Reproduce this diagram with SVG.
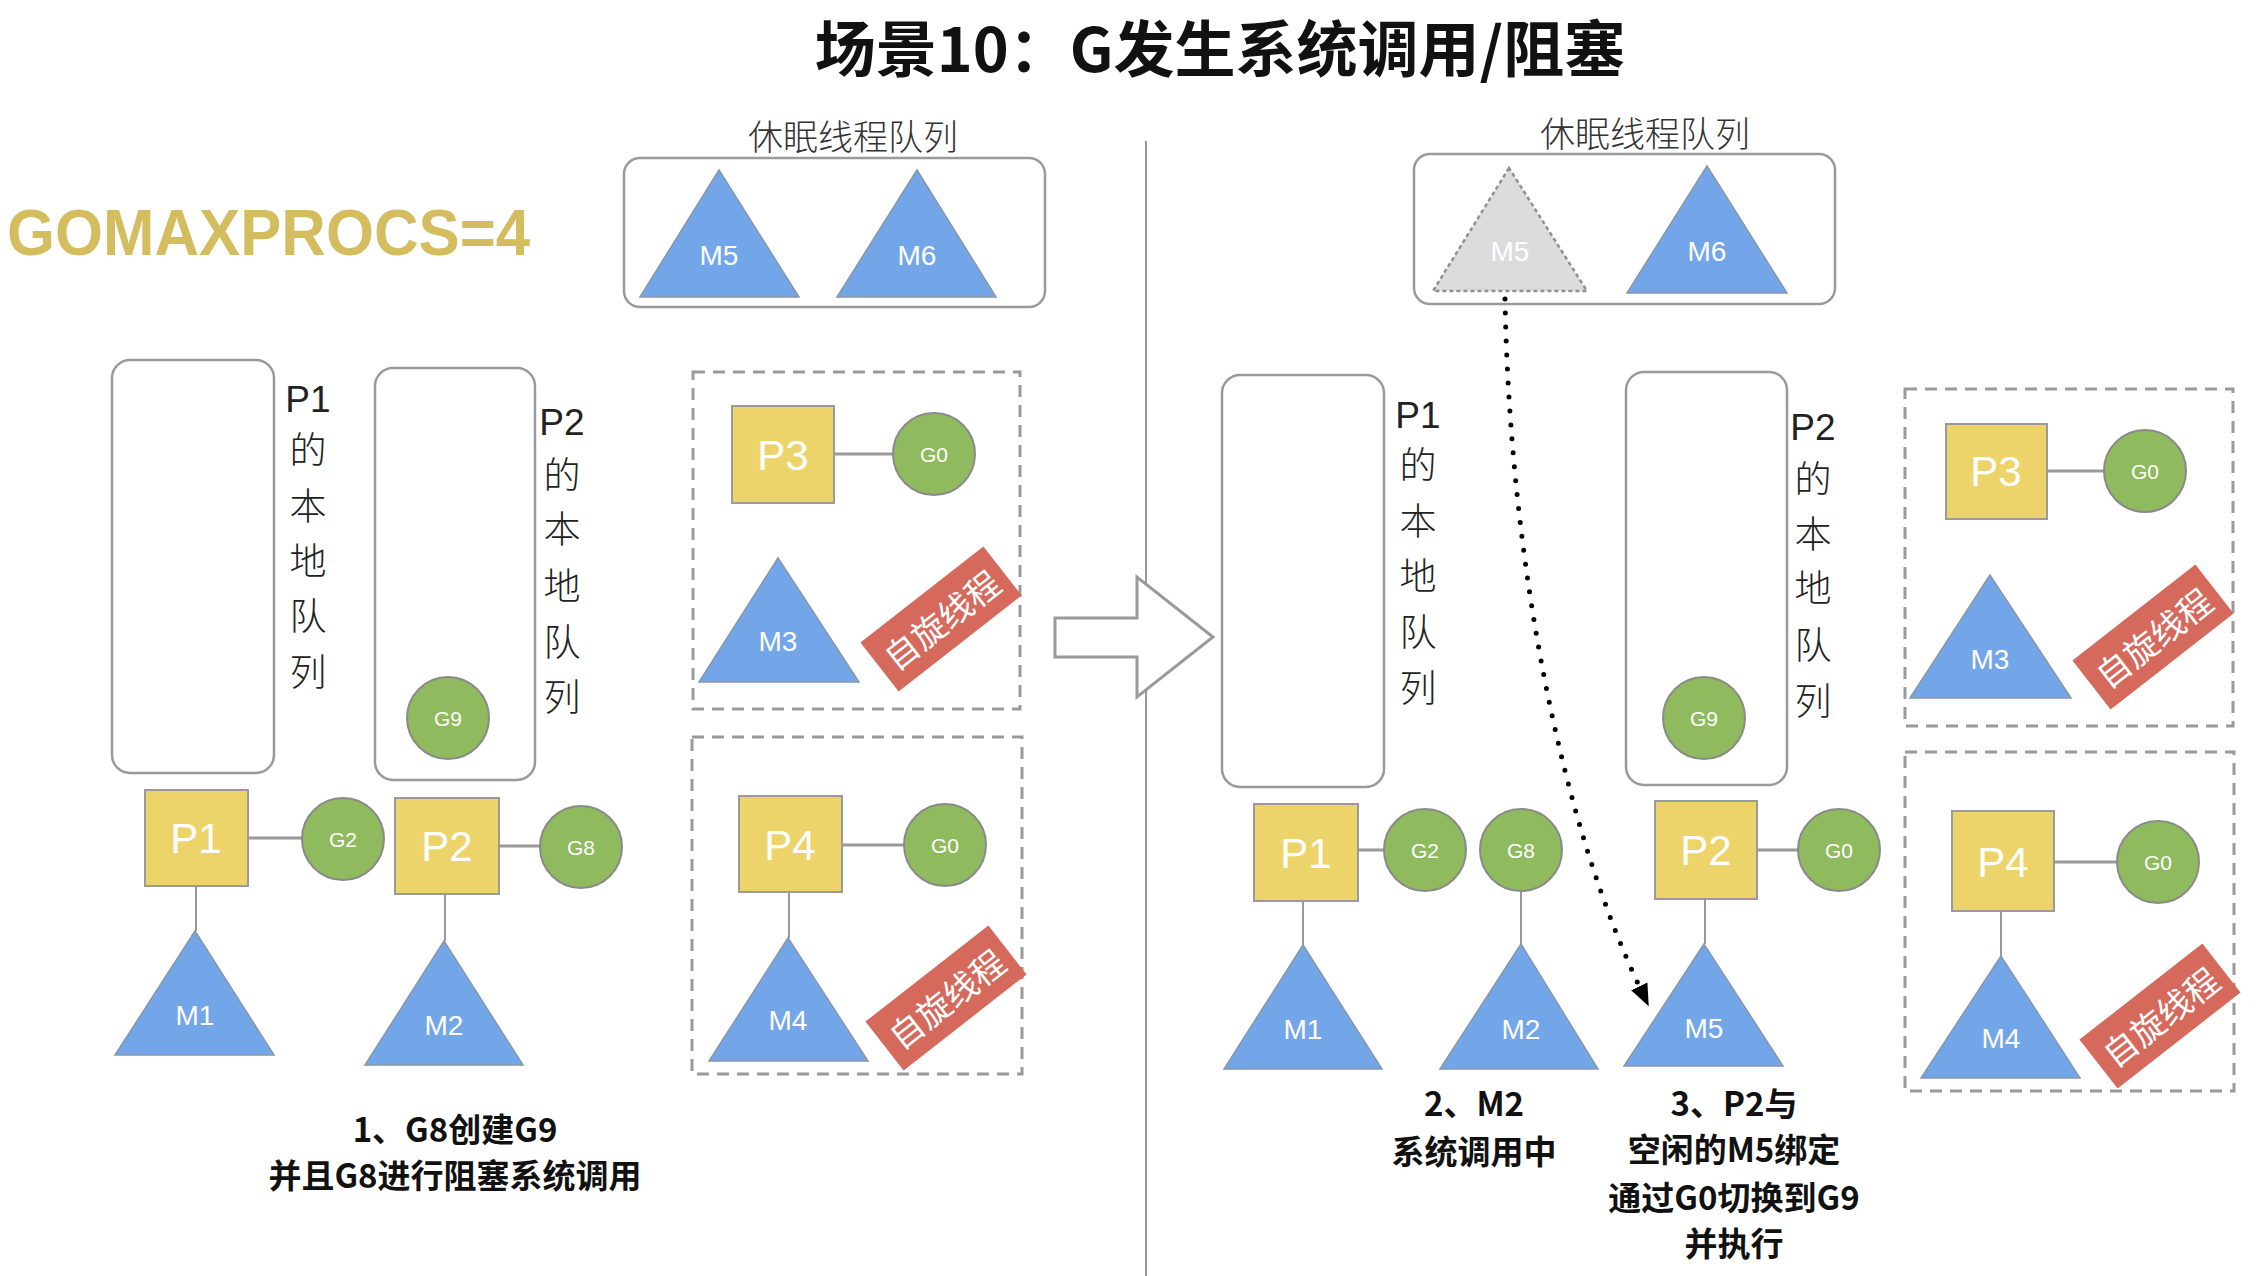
<svg xmlns="http://www.w3.org/2000/svg" width="2260" height="1276" viewBox="0 0 2260 1276">
<defs>
<style>
.bg{fill:#ffffff}
.title{font-family:"Noto Sans CJK SC","Liberation Sans",sans-serif;font-weight:700;font-size:61px;fill:#111}
.gmp{font-family:"Liberation Sans",Arial,sans-serif;font-weight:700;font-size:64px;fill:#D4BD5E}
.qbox{fill:#fff;stroke:#9a9a9a;stroke-width:2.5}
.dbox{fill:none;stroke:#9a9a9a;stroke-width:3;stroke-dasharray:12 8}
.vt{font-family:"Liberation Sans","Noto Sans CJK SC",sans-serif;font-size:37px;fill:#222;text-anchor:middle;dominant-baseline:central;font-weight:300}
.slbl{font-family:"Noto Sans CJK SC",sans-serif;font-size:35px;fill:#333;text-anchor:middle;font-weight:300}
.p{fill:#ECD46A;stroke:#9a9a9a;stroke-width:2}
.pt{font-family:"Liberation Sans",Arial,sans-serif;font-size:42px;fill:#fff;text-anchor:middle;dominant-baseline:central}
.g{fill:#8FBA5D;stroke:#8a8a8a;stroke-width:2}
.gt{font-family:"Liberation Sans",Arial,sans-serif;font-size:21px;fill:#fff;text-anchor:middle;dominant-baseline:central}
.m{fill:#73A6E9;stroke:#8896a8;stroke-width:1.5}
.mg{fill:#DCDCDD;stroke:#909090;stroke-width:2.5;stroke-dasharray:4 3}
.mt{font-family:"Liberation Sans",Arial,sans-serif;font-size:28px;fill:#fff;text-anchor:middle;dominant-baseline:central}
.ln{stroke:#999;stroke-width:3;fill:none}
.lv{stroke:#999;stroke-width:2;fill:none}
.ban{fill:#D4695C}
.bt{font-family:"Noto Sans CJK SC",sans-serif;font-size:34px;fill:#fff;text-anchor:middle;dominant-baseline:central}
.cap{font-family:"Noto Sans CJK SC","Liberation Sans",sans-serif;font-weight:700;font-size:33px;fill:#111;text-anchor:middle}
</style>
<marker id="ah" markerUnits="userSpaceOnUse" markerWidth="24" markerHeight="24" viewBox="0 0 24 24" refX="4" refY="12" orient="auto">
<path d="M0,3 L22,12 L0,21 Z" fill="#000"/>
</marker>
</defs>
<rect class="bg" x="0" y="0" width="2260" height="1276"/>

<text class="title" x="1220" y="72" text-anchor="middle">场景10：G发生系统调用/阻塞</text>
<text class="gmp" x="7" y="255" textLength="523" lengthAdjust="spacingAndGlyphs">GOMAXPROCS=4</text>

<g id="divider">
<line x1="1146" y1="141" x2="1146" y2="1276" stroke="#999" stroke-width="2"/>
</g>

<!-- LEFT PANEL -->
<g id="L-sleep">
<text class="slbl" x="853" y="150">休眠线程队列</text>
<rect class="qbox" x="624" y="158" width="421" height="149" rx="16"/>
</g>
<g id="L-M5"><polygon class="m" points="719,170 640,297 799,297"/><text class="mt" x="719" y="255">M5</text></g>
<g id="L-M6"><polygon class="m" points="917,170 837,297 996,297"/><text class="mt" x="917" y="255">M6</text></g>

<g id="L-P1queue">
<rect class="qbox" x="112" y="360" width="162" height="413" rx="18"/>
<text class="vt" x="308" y="399">P1</text><text class="vt" x="308" y="451">的</text><text class="vt" x="308" y="507">本</text><text class="vt" x="308" y="562">地</text><text class="vt" x="308" y="617">队</text><text class="vt" x="308" y="673">列</text>
</g>
<g id="L-P2queue">
<rect class="qbox" x="375" y="368" width="160" height="412" rx="18"/>
<text class="vt" x="562" y="422">P2</text><text class="vt" x="562" y="476">的</text><text class="vt" x="562" y="530">本</text><text class="vt" x="562" y="587">地</text><text class="vt" x="562" y="643">队</text><text class="vt" x="562" y="698">列</text>
</g>
<g id="L-G9"><circle class="g" cx="448" cy="718" r="41"/><text class="gt" x="448" y="718">G9</text></g>

<g id="L-connectors">
<line class="ln" x1="248" y1="838" x2="302" y2="838"/>
<line class="lv" x1="196" y1="886" x2="196" y2="931"/>
<line class="ln" x1="499" y1="846" x2="540" y2="846"/>
<line class="lv" x1="445" y1="894" x2="445" y2="941"/>
<line class="ln" x1="834" y1="454" x2="893" y2="454"/>
<line class="ln" x1="842" y1="845" x2="904" y2="845"/>
<line class="lv" x1="789" y1="892" x2="789" y2="938"/>
</g>

<g id="L-P1"><rect class="p" x="145" y="790" width="103" height="96"/><text class="pt" x="196" y="838">P1</text></g>
<g id="L-G2"><circle class="g" cx="343" cy="839" r="41"/><text class="gt" x="343" y="839">G2</text></g>
<g id="L-M1"><polygon class="m" points="195,931 115,1055 274,1055"/><text class="mt" x="195" y="1015">M1</text></g>
<g id="L-P2"><rect class="p" x="395" y="798" width="104" height="96"/><text class="pt" x="447" y="846">P2</text></g>
<g id="L-G8"><circle class="g" cx="581" cy="847" r="41"/><text class="gt" x="581" y="847">G8</text></g>
<g id="L-M2"><polygon class="m" points="444,941 365,1065 523,1065"/><text class="mt" x="444" y="1025">M2</text></g>

<g id="L-P3group">
<rect class="dbox" x="693" y="372" width="327" height="337"/>
<rect class="p" x="732" y="406" width="102" height="97"/><text class="pt" x="783" y="455">P3</text>
<circle class="g" cx="934" cy="454" r="41"/><text class="gt" x="934" y="454">G0</text>
<polygon class="m" points="778,558 699,682 859,682"/><text class="mt" x="778" y="641">M3</text>
<g transform="translate(941,619) rotate(-38)"><rect class="ban" x="-78" y="-31" width="156" height="62"/><text class="bt" x="0" y="0">自旋线程</text></g>
</g>
<g id="L-P4group">
<rect class="dbox" x="692" y="737" width="330" height="337"/>
<rect class="p" x="739" y="796" width="103" height="96"/><text class="pt" x="790" y="845">P4</text>
<circle class="g" cx="945" cy="845" r="41"/><text class="gt" x="945" y="845">G0</text>
<polygon class="m" points="788,938 709,1061 868,1061"/><text class="mt" x="788" y="1020">M4</text>
<g transform="translate(946,998) rotate(-38)"><rect class="ban" x="-78" y="-31" width="156" height="62"/><text class="bt" x="0" y="0">自旋线程</text></g>
</g>

<g id="L-caption">
<text class="cap" x="455" y="1142">1、G8创建G9</text>
<text class="cap" x="455" y="1188">并且G8进行阻塞系统调用</text>
</g>

<g id="bigarrow">
<polygon points="1055,618 1137,618 1137,577 1213,637 1137,697 1137,657 1055,657" fill="#fff" stroke="#9a9a9a" stroke-width="3"/>
</g>

<!-- RIGHT PANEL -->
<g id="R-sleep">
<text class="slbl" x="1645" y="147">休眠线程队列</text>
<rect class="qbox" x="1414" y="154" width="421" height="150" rx="16"/>
</g>
<g id="R-M5ghost"><polygon class="mg" points="1509,168 1433,291 1587,291"/><text class="mt" x="1510" y="251">M5</text></g>
<g id="R-M6"><polygon class="m" points="1707,166 1627,293 1787,293"/><text class="mt" x="1707" y="251">M6</text></g>

<g id="R-P1queue">
<rect class="qbox" x="1222" y="375" width="162" height="412" rx="18"/>
<text class="vt" x="1418" y="415">P1</text><text class="vt" x="1418" y="466">的</text><text class="vt" x="1418" y="522">本</text><text class="vt" x="1418" y="577">地</text><text class="vt" x="1418" y="633">队</text><text class="vt" x="1418" y="689">列</text>
</g>
<g id="R-P2queue">
<rect class="qbox" x="1626" y="372" width="161" height="413" rx="18"/>
<text class="vt" x="1813" y="427">P2</text><text class="vt" x="1813" y="480">的</text><text class="vt" x="1813" y="535">本</text><text class="vt" x="1813" y="589">地</text><text class="vt" x="1813" y="646">队</text><text class="vt" x="1813" y="702">列</text>
</g>
<g id="R-G9"><circle class="g" cx="1704" cy="718" r="41"/><text class="gt" x="1704" y="718">G9</text></g>

<g id="R-connectors">
<line class="ln" x1="1358" y1="850" x2="1384" y2="850"/>
<line class="lv" x1="1303" y1="901" x2="1303" y2="945"/>
<line class="lv" x1="1521" y1="891" x2="1521" y2="944"/>
<line class="ln" x1="1757" y1="850" x2="1798" y2="850"/>
<line class="lv" x1="1705" y1="899" x2="1705" y2="944"/>
<line class="ln" x1="2047" y1="471" x2="2104" y2="471"/>
<line class="ln" x1="2054" y1="862" x2="2117" y2="862"/>
<line class="lv" x1="2001" y1="911" x2="2001" y2="956"/>
<path d="M1505,299 C1510,560 1560,820 1641,990" fill="none" stroke="#000" stroke-width="5" stroke-linecap="round" stroke-dasharray="0 14" marker-end="url(#ah)"/>
</g>

<g id="R-P1"><rect class="p" x="1254" y="804" width="104" height="97"/><text class="pt" x="1306" y="853">P1</text></g>
<g id="R-G2"><circle class="g" cx="1425" cy="850" r="41"/><text class="gt" x="1425" y="850">G2</text></g>
<g id="R-G8"><circle class="g" cx="1521" cy="850" r="41"/><text class="gt" x="1521" y="850">G8</text></g>
<g id="R-M1"><polygon class="m" points="1303,945 1224,1069 1382,1069"/><text class="mt" x="1303" y="1029">M1</text></g>
<g id="R-M2"><polygon class="m" points="1521,944 1440,1069 1598,1069"/><text class="mt" x="1521" y="1029">M2</text></g>
<g id="R-P2"><rect class="p" x="1655" y="801" width="102" height="98"/><text class="pt" x="1706" y="850">P2</text></g>
<g id="R-G0"><circle class="g" cx="1839" cy="850" r="41"/><text class="gt" x="1839" y="850">G0</text></g>
<g id="R-M5"><polygon class="m" points="1704,944 1624,1066 1783,1066"/><text class="mt" x="1704" y="1028">M5</text></g>

<g id="R-P3group">
<rect class="dbox" x="1905" y="389" width="328" height="337"/>
<rect class="p" x="1946" y="424" width="101" height="95"/><text class="pt" x="1996" y="471">P3</text>
<circle class="g" cx="2145" cy="471" r="41"/><text class="gt" x="2145" y="471">G0</text>
<polygon class="m" points="1990,575 1910,698 2071,698"/><text class="mt" x="1990" y="659">M3</text>
<g transform="translate(2153,637) rotate(-38)"><rect class="ban" x="-78" y="-31" width="156" height="62"/><text class="bt" x="0" y="0">自旋线程</text></g>
</g>
<g id="R-P4group">
<rect class="dbox" x="1905" y="752" width="329" height="339"/>
<rect class="p" x="1952" y="811" width="102" height="100"/><text class="pt" x="2003" y="862">P4</text>
<circle class="g" cx="2158" cy="862" r="41"/><text class="gt" x="2158" y="862">G0</text>
<polygon class="m" points="2001,956 1921,1078 2080,1078"/><text class="mt" x="2001" y="1038">M4</text>
<g transform="translate(2160,1016) rotate(-38)"><rect class="ban" x="-78" y="-31" width="156" height="62"/><text class="bt" x="0" y="0">自旋线程</text></g>
</g>

<g id="R-caption2">
<text class="cap" x="1474" y="1116">2、M2</text>
<text class="cap" x="1474" y="1164">系统调用中</text>
</g>
<g id="R-caption3">
<text class="cap" x="1734" y="1116">3、P2与</text>
<text class="cap" x="1734" y="1162">空闲的M5绑定</text>
<text class="cap" x="1734" y="1210">通过G0切换到G9</text>
<text class="cap" x="1734" y="1256">并执行</text>
</g>
</svg>
